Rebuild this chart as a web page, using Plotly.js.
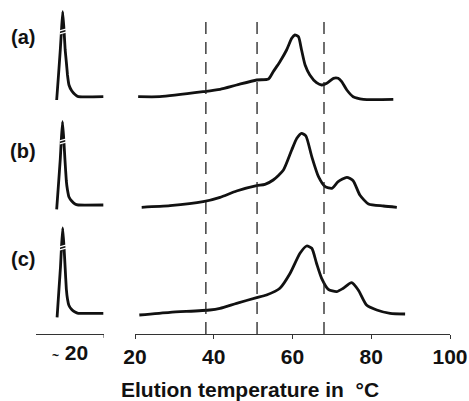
<!DOCTYPE html>
<html><head><meta charset="utf-8">
<script src="https://cdn.plot.ly/plotly-3.0.1.min.js"></script>
<style>html,body{margin:0;padding:0;background:#fff}</style>
</head><body><div id="chart" style="width:469px;height:401px"></div>
<script>
// Row labels
const rowLabels = ["(a)", "(b)", "(c)"];
// Left panels (soluble fraction near ~20 °C), arbitrary intensity
const leftT_a = [18.04, 18.31, 18.57, 18.75, 18.93, 19.12, 19.29, 19.46, 19.63, 19.85, 20.25, 20.74, 21.22, 24.9];
const leftV_a = [18, 43, 68, 88, 106.3, 88, 68, 56, 43, 33, 27.3, 23.5, 21.3, 21.3];
const leftT_b = [18.04, 18.31, 18.57, 18.72, 18.9, 19.09, 19.26, 19.46, 19.63, 19.85, 20.25, 20.74, 21.22, 24.9];
const leftV_b = [16.7, 42, 67, 86, 104.3, 86, 66, 45, 36, 29, 25, 22, 21, 21];
const leftT_c = [18.1, 18.35, 18.6, 18.75, 18.93, 19.12, 19.29, 19.46, 19.63, 19.85, 20.25, 20.74, 21.22, 24.9];
const leftV_c = [16.7, 42, 67, 87, 106, 87, 66, 45, 35, 28.5, 24.5, 22, 20.7, 20.7];
// Right panels: elution temperature (°C) vs intensity
const T_a = [20.8, 26.3, 37.3, 41.6, 45.8, 50.9, 53.9, 55.1, 56.8, 58.5, 59.8, 60.6, 61.5, 62.3, 63.2, 64.4, 66.1, 67.4, 68.7, 70.4, 71.6, 72.5, 73.8, 75.4, 78.0, 85.6];
const V_a = [21.3, 21.3, 26.3, 28.7, 33, 38, 39, 46.3, 56.3, 68, 79.7, 83, 81.3, 68, 53, 43, 35.3, 33, 34.7, 39.7, 39.7, 36.3, 28, 21.3, 18.7, 18.7];
const T_b = [21.7, 28.9, 37.3, 41.6, 45.8, 50.9, 53.0, 55.1, 57.7, 59.8, 61.1, 62.3, 63.4, 64.9, 66.6, 68.3, 70.0, 71.6, 73.8, 75.4, 77.1, 79.3, 83.1, 86.5];
const V_b = [18.7, 20.3, 24.3, 28.7, 35, 40.3, 41.7, 46, 56, 76, 87.7, 92.7, 90, 69.3, 49.3, 39.3, 37.7, 44.3, 48.7, 45.3, 31, 22, 20, 18.7];
const T_c = [21.1, 28.9, 39.0, 41.6, 45.8, 50.9, 53.4, 56.8, 59.4, 61.9, 63.6, 64.9, 66.1, 67.4, 69.1, 71.2, 72.9, 75.0, 76.7, 78.8, 81.4, 84.8, 88.6];
const V_c = [19, 21.7, 24, 25.7, 30.7, 36.3, 39, 45.7, 60.7, 80.7, 88, 85.7, 70.7, 55.7, 44.7, 42.3, 45.7, 51.3, 44, 29, 24, 20.7, 20];
// Dashed reference temperatures
const dashT = [38, 51, 68];
// Axis ticks
const rightTicks = [20, 40, 60, 80, 100];
const leftTickVals = [20];
const leftTickText = ["<span style='font-size:12px'>~</span> 20"];
const xTitle = "Elution temperature in  °C";

const lineStyle = {color: '#111', width: 2.8, shape: 'spline', smoothing: 0.6};
const leftSets = [[leftT_a, leftV_a], [leftT_b, leftV_b], [leftT_c, leftV_c]];
const rightSets = [[T_a, V_a], [T_b, V_b], [T_c, V_c]];
const traces = [];
for (let r = 0; r < 3; r++) {
  const lx = 'x' + (r * 2 === 0 ? '' : (r * 2 + 1)), ly = 'y' + (r * 2 === 0 ? '' : (r * 2 + 1));
  const rx = 'x' + (r * 2 + 2), ry = 'y' + (r * 2 + 2);
  traces.push({x: leftSets[r][0], y: leftSets[r][1], xaxis: lx, yaxis: ly, mode: 'lines',
    line: {color: '#111', width: 2.8, shape: 'spline', smoothing: 0.3}, hoverinfo: 'skip'});
  traces.push({x: rightSets[r][0], y: rightSets[r][1], xaxis: rx, yaxis: ry, mode: 'lines',
    line: lineStyle, hoverinfo: 'skip'});
}

const L = [0, 68 / 414], R = [99 / 414, 1];
const rowDom = [[216 / 324, 1], [108 / 324, 216 / 324], [0, 108 / 324]];
const font = {family: 'Liberation Sans, Arial, sans-serif', color: '#111'};
const hidden = {visible: false, fixedrange: true};
const layout = {
  width: 469, height: 401,
  margin: {l: 36, r: 19, t: 10, b: 67},
  paper_bgcolor: '#fff', plot_bgcolor: '#fff',
  showlegend: false,
  font: font,
  shapes: [],
  annotations: []
};
for (let r = 0; r < 3; r++) {
  const li = r * 2 === 0 ? '' : (r * 2 + 1), ri = r * 2 + 2;
  layout['yaxis' + li] = Object.assign({domain: rowDom[r], range: [0, 108], anchor: 'x' + li}, hidden);
  layout['yaxis' + ri] = Object.assign({domain: rowDom[r], range: [0, 108], anchor: 'x' + ri}, hidden);
  if (r < 2) {
    layout['xaxis' + li] = Object.assign({domain: L, range: [15, 25], anchor: 'y' + li}, hidden);
    layout['xaxis' + ri] = Object.assign({domain: R, range: [20, 100], anchor: 'y' + ri}, hidden);
  }
}
const tickFont = {size: 21, family: 'Liberation Sans, Arial, sans-serif', color: '#111', weight: 'bold'};
layout.xaxis5 = {domain: L, range: [15, 25], anchor: 'y5', showline: true, linecolor: '#333', linewidth: 1,
  showgrid: false, zeroline: false, ticks: '', tickvals: leftTickVals, ticktext: leftTickText,
  tickfont: tickFont, fixedrange: true};
layout.xaxis6 = {domain: R, range: [20, 100], anchor: 'y6', showline: true, linecolor: '#333', linewidth: 1,
  showgrid: false, zeroline: false, ticks: 'outside', ticklen: 4, tickwidth: 1, tickcolor: '#333',
  tickvals: rightTicks, ticktext: rightTicks.map(String),
  tickfont: tickFont, fixedrange: true};

dashT.forEach(t => layout.shapes.push({type: 'line', xref: 'x6', yref: 'paper', x0: t, x1: t, y0: 0, y1: 0.963,
  line: {color: '#222', width: 1.3, dash: '12px,8px'}}));
layout.shapes.push({type: 'line', xref: 'x5', yref: 'paper', x0: 25, x1: 25, y0: 0, y1: -0.012, line: {color: '#333', width: 1}});
// break marks on the truncated peaks
const brkY = [[88, 85], [86, 83], [88, 85]];
const brkAx = ['y', 'y3', 'y5'], brkX = ['x', 'x3', 'x5'];
for (let r = 0; r < 3; r++) {
  brkY[r].forEach(v => layout.shapes.push({type: 'line', xref: brkX[r], yref: brkAx[r], x0: 18.5, x1: 19.4, y0: v - 0.8, y1: v + 0.8,
    line: {color: '#fff', width: 1.2}}));
}
const labY = [0.9167, 0.5648, 0.2315];
rowLabels.forEach((t, i) => layout.annotations.push({text: t, xref: 'paper', yref: 'paper', x: -0.0314, y: labY[i],
  xanchor: 'center', yanchor: 'middle', showarrow: false,
  font: {size: 20, family: 'Liberation Sans, Arial, sans-serif', color: '#111', weight: 'bold'}}));
layout.annotations.push({text: xTitle, xref: 'paper', yref: 'paper', x: 0.517, y: -0.172, xanchor: 'center', yanchor: 'middle',
  showarrow: false, font: {size: 21, family: 'Liberation Sans, Arial, sans-serif', color: '#111', weight: 'bold'}});

Plotly.newPlot('chart', traces, layout, {staticPlot: true, displayModeBar: false});
</script></body></html>
